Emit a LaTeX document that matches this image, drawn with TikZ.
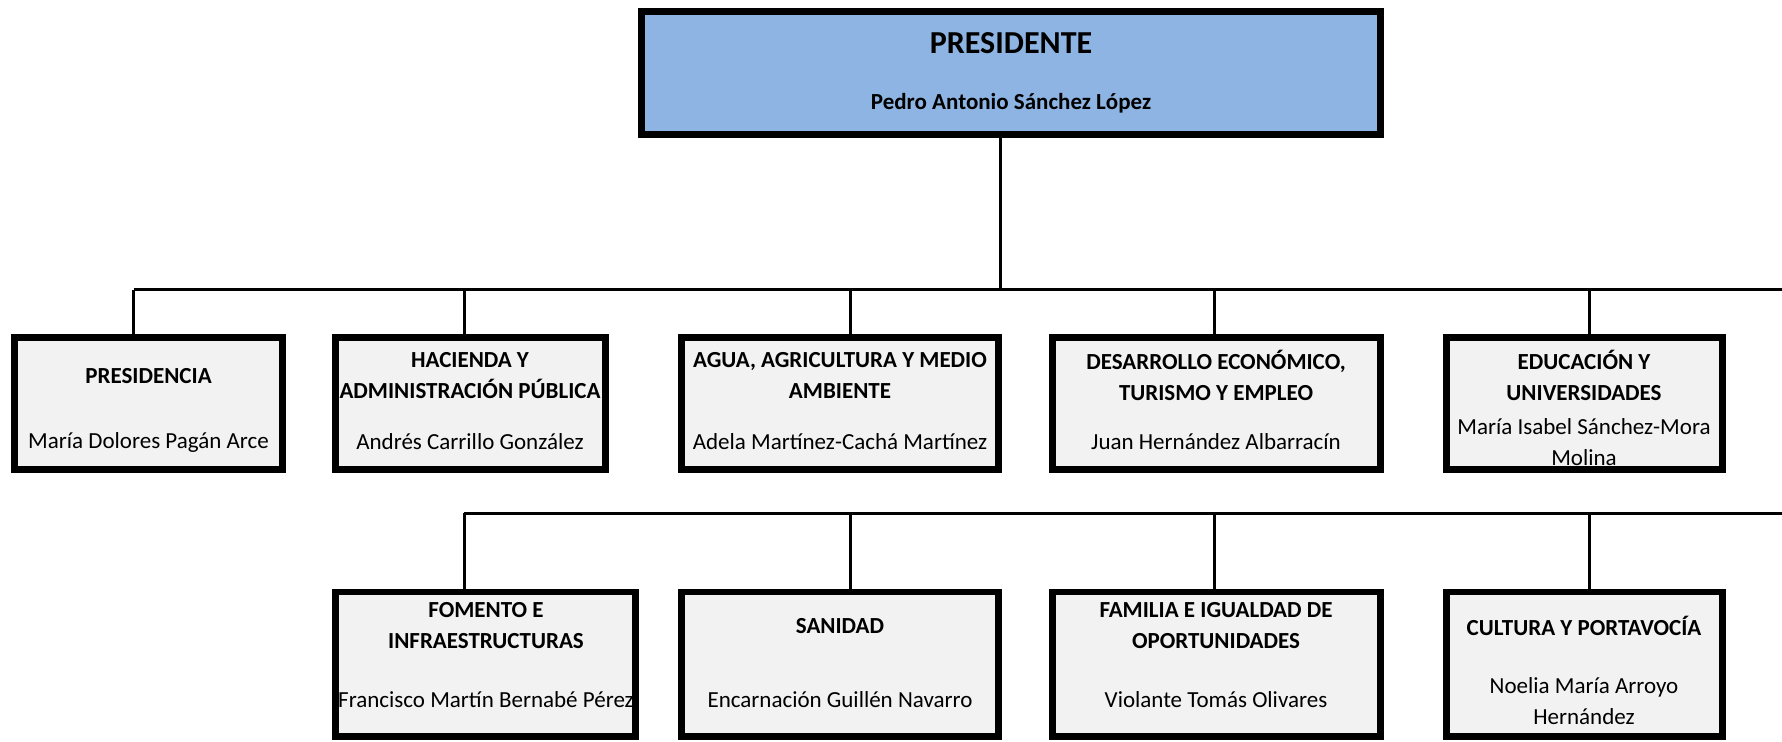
\documentclass[tikz,border=0pt]{standalone}
\usepackage{fontspec}
\setmainfont{Carlito}
\usetikzlibrary{fit}
\definecolor{azul}{RGB}{141,180,226}
\definecolor{gris}{RGB}{242,242,242}
\tikzset{
  caja/.style={draw=black, line width=3.4pt, fill=gris, inner sep=0pt},
  jefe/.style={caja, fill=azul},
  linea/.style={line width=1.5pt},
  titulo/.style={font=\bfseries\fontsize{11.5}{15.5}\selectfont, align=center, inner sep=0pt},
  nombre/.style={font=\fontsize{11.5}{15.5}\selectfont, align=center, inner sep=0pt}
}
\begin{document}
\begin{tikzpicture}[x=0.5pt,y=-0.5pt]
\useasboundingbox (0,0) rectangle (1782,741);
% presidente
\node[jefe, fit={(641.5,11.5) (1380.5,134.5)}] (pres) {};
\node[titulo, font=\bfseries\fontsize{16}{19}\selectfont] (tpres) at (1011,43) {PRESIDENTE};
\node[titulo] (npres) at (1011,103) {Pedro Antonio Sánchez López};
% consejerias, primera fila
\node[caja, fit={(14.5,337.5) (282.5,469.5)}] (b1) {};
\node[titulo] (t1) at (148.5,376) {PRESIDENCIA};
\node[nombre] (n1) at (148.5,442) {María Dolores Pagán Arce};
\node[caja, fit={(335.5,337.5) (605.5,469.5)}] (b2) {};
\node[titulo] (t2) at (470,375.5) {HACIENDA Y\\ADMINISTRACIÓN PÚBLICA};
\node[nombre] (n2) at (470,442) {Andrés Carrillo González};
\node[caja, fit={(681.5,337.5) (998.5,469.5)}] (b3) {};
\node[titulo] (t3) at (840,375.5) {AGUA, AGRICULTURA Y MEDIO\\AMBIENTE};
\node[nombre] (n3) at (840,442) {Adela Martínez-Cachá Martínez};
\node[caja, fit={(1052.5,337.5) (1380.5,469.5)}] (b4) {};
\node[titulo] (t4) at (1216,375.5) {DESARROLLO ECONÓMICO,\\TURISMO Y EMPLEO};
\node[nombre] (n4) at (1216,442) {Juan Hernández Albarracín};
\node[caja, fit={(1446.5,337.5) (1722.5,469.5)}] (b5) {};
\node[titulo] (t5) at (1584,375.5) {EDUCACIÓN Y\\UNIVERSIDADES};
\node[nombre] (n5) at (1584,442.5) {María Isabel Sánchez-Mora\\Molina};
% consejerias, segunda fila
\node[caja, fit={(335.5,592) (635.5,736.5)}] (c1) {};
\node[titulo] (t6) at (486,625.5) {FOMENTO E\\INFRAESTRUCTURAS};
\node[nombre] (n6) at (486,700) {Francisco Martín Bernabé Pérez};
\node[caja, fit={(681.5,592) (998.5,736.5)}] (c2) {};
\node[titulo] (t7) at (840,626) {SANIDAD};
\node[nombre] (n7) at (840,700) {Encarnación Guillén Navarro};
\node[caja, fit={(1052.5,592) (1380.5,736.5)}] (c3) {};
\node[titulo] (t8) at (1216,625.5) {FAMILIA E IGUALDAD DE\\OPORTUNIDADES};
\node[nombre] (n8) at (1216,700) {Violante Tomás Olivares};
\node[caja, fit={(1446.5,592) (1722.5,736.5)}] (c4) {};
\node[titulo] (t9) at (1584,626) {CULTURA Y PORTAVOCÍA};
\node[nombre] (n9) at (1584,701.5) {Noelia María Arroyo\\Hernández};
% lineas
\coordinate (r0) at (1000.5,289.5);
\coordinate (r1) at (133.5,289.5);
\coordinate (r1e) at (1782,289.5);
\coordinate (d2) at (464,289.5);
\coordinate (d3) at (850,289.5);
\coordinate (d4) at (1214,289.5);
\coordinate (d5) at (1589,289.5);
\draw[linea] (r0 |- pres.south) -- (r0);
\draw[linea] (r1) -- (r1e);
\draw[linea] (r1) -- (r1 |- b1.north);
\draw[linea] (d2) -- (d2 |- b2.north);
\draw[linea] (d3) -- (d3 |- b3.north);
\draw[linea] (d4) -- (d4 |- b4.north);
\draw[linea] (d5) -- (d5 |- b5.north);
\coordinate (r2) at (464,513);
\coordinate (r2e) at (1782,513);
\coordinate (e2) at (850,513);
\coordinate (e3) at (1214,513);
\coordinate (e4) at (1589,513);
\draw[linea] (r2) -- (r2e);
\draw[linea] (r2) -- (r2 |- c1.north);
\draw[linea] (e2) -- (e2 |- c2.north);
\draw[linea] (e3) -- (e3 |- c3.north);
\draw[linea] (e4) -- (e4 |- c4.north);
\end{tikzpicture}
\end{document}
